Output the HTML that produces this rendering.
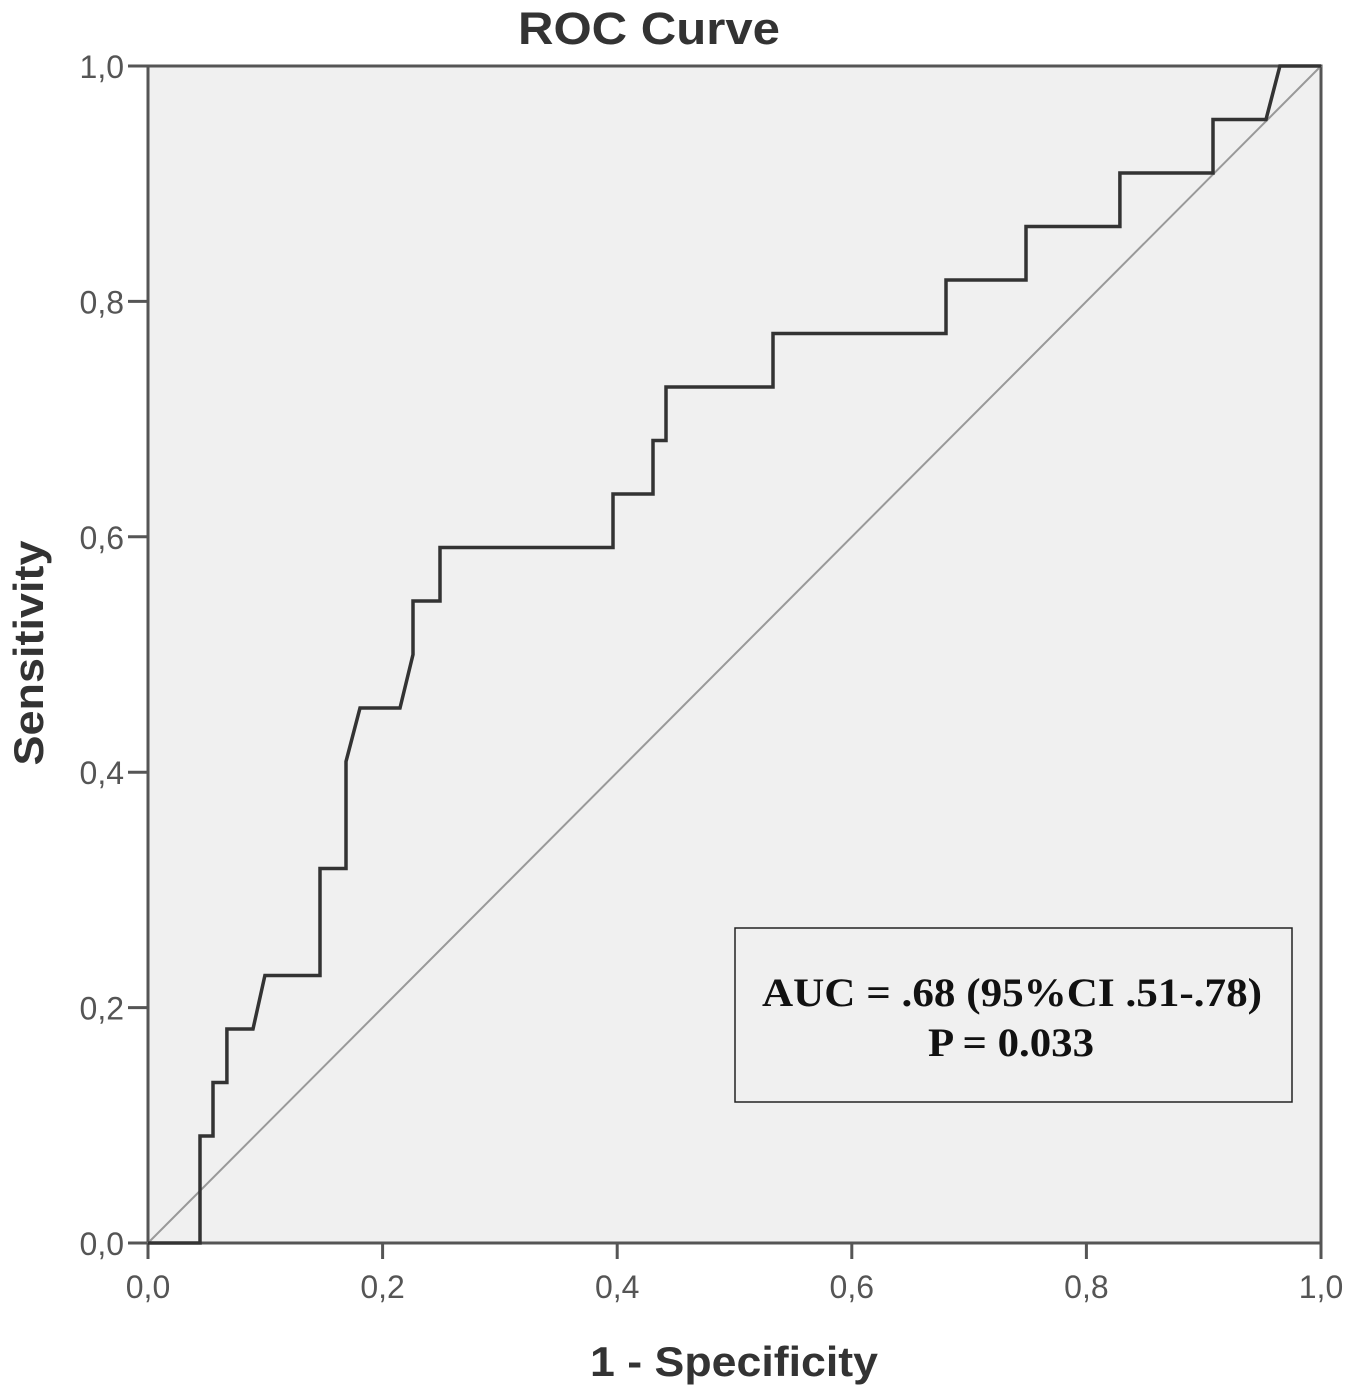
<!DOCTYPE html>
<html><head><meta charset="utf-8"><style>
body{margin:0;background:#fff;}
svg{display:block;}
</style></head><body>
<svg id="chart" width="1350" height="1392" xmlns="http://www.w3.org/2000/svg">
<text x="649" y="44" text-anchor="middle" font-family="Liberation Sans, sans-serif" font-weight="bold" font-size="45" fill="#333" textLength="262" lengthAdjust="spacingAndGlyphs">ROC Curve</text>
<rect x="148" y="66" width="1173" height="1177" fill="#f0f0f0" stroke="#555" stroke-width="3"/>
<g id="ticks"></g>
<line id="diag" stroke="#999" stroke-width="2"/>
<path id="roc" fill="none" stroke="#333" stroke-width="3.5" stroke-linejoin="miter"/>
<text x="734" y="1376" text-anchor="middle" font-family="Liberation Sans, sans-serif" font-weight="bold" font-size="42" fill="#333" textLength="288" lengthAdjust="spacingAndGlyphs">1 - Specificity</text>
<text transform="translate(43,653) rotate(-90)" text-anchor="middle" font-family="Liberation Sans, sans-serif" font-weight="bold" font-size="42" fill="#333" textLength="225" lengthAdjust="spacingAndGlyphs">Sensitivity</text>
<g>
<rect x="735" y="928" width="557" height="174" fill="#f0f0f0" stroke="#222" stroke-width="1.5"/>
<text x="1012" y="1006" text-anchor="middle" font-family="Liberation Serif, serif" font-weight="bold" font-size="40" fill="#111" textLength="500" lengthAdjust="spacingAndGlyphs">AUC = .68 (95%CI .51-.78)</text>
<text x="1011" y="1056" text-anchor="middle" font-family="Liberation Serif, serif" font-weight="bold" font-size="40" fill="#111" textLength="166" lengthAdjust="spacingAndGlyphs">P = 0.033</text>
</g>
</svg>
<script>
const fpr=[0,0.0443,0.0443,0.0554,0.0554,0.0673,0.0673,0.0895,0.0997,0.1466,0.1466,0.1688,0.1688,0.1807,0.2148,0.2259,0.2259,0.2489,0.2489,0.3964,0.3964,0.4305,0.4305,0.4416,0.4416,0.5328,0.5328,0.6803,0.6803,0.7485,0.7485,0.8286,0.8286,0.9079,0.9079,0.9531,0.965,1];
const tprSteps=[0,0,2,2,3,3,4,4,5,5,7,7,9,10,10,11,12,12,13,13,14,14,15,15,16,16,17,17,18,18,19,19,20,20,21,21,22,22];
const nPos=22;
const tickValues=[0,0.2,0.4,0.6,0.8,1];
const tickLabels=["0,0","0,2","0,4","0,6","0,8","1,0"];
const X0=148,X1=1321,Y0=1243,Y1=66;
const sx=v=>X0+(X1-X0)*v, sy=v=>Y0-(Y0-Y1)*v;
const NS="http://www.w3.org/2000/svg";
const g=document.getElementById('ticks');
tickValues.forEach((v,i)=>{
 let l=document.createElementNS(NS,'line');
 
 
 l.setAttribute('x1',X0-20);l.setAttribute('x2',X0);l.setAttribute('y1',sy(v));l.setAttribute('y2',sy(v));
 l.setAttribute('stroke','#555');l.setAttribute('stroke-width','3');g.appendChild(l);
 let t=document.createElementNS(NS,'text');
 
 
 t.setAttribute('x',X0-24);t.setAttribute('y',sy(v)+12);t.setAttribute('text-anchor','end');
 t.setAttribute('font-family','Liberation Sans, sans-serif');t.setAttribute('font-size','32');t.setAttribute('fill','#555');
 t.textContent=tickLabels[i];g.appendChild(t);
 let l2=document.createElementNS(NS,'line');
 
 
 l2.setAttribute('x1',sx(v));l2.setAttribute('x2',sx(v));l2.setAttribute('y1',Y0);l2.setAttribute('y2',Y0+16);
 l2.setAttribute('stroke','#555');l2.setAttribute('stroke-width','3');g.appendChild(l2);
 let t2=document.createElementNS(NS,'text');
 
 
 t2.setAttribute('x',sx(v));t2.setAttribute('y',Y0+55);t2.setAttribute('text-anchor','middle');
 t2.setAttribute('font-family','Liberation Sans, sans-serif');t2.setAttribute('font-size','32');t2.setAttribute('fill','#555');
 t2.textContent=tickLabels[i];g.appendChild(t2);
});
const d=document.getElementById('diag');
d.setAttribute('x1',sx(0));d.setAttribute('y1',sy(0));d.setAttribute('x2',sx(1));d.setAttribute('y2',sy(1));
let p='';
fpr.forEach((v,i)=>{p+=(i?'L':'M')+sx(v).toFixed(1)+','+sy(tprSteps[i]/nPos).toFixed(1);});
document.getElementById('roc').setAttribute('d',p);
</script>
</body></html>
